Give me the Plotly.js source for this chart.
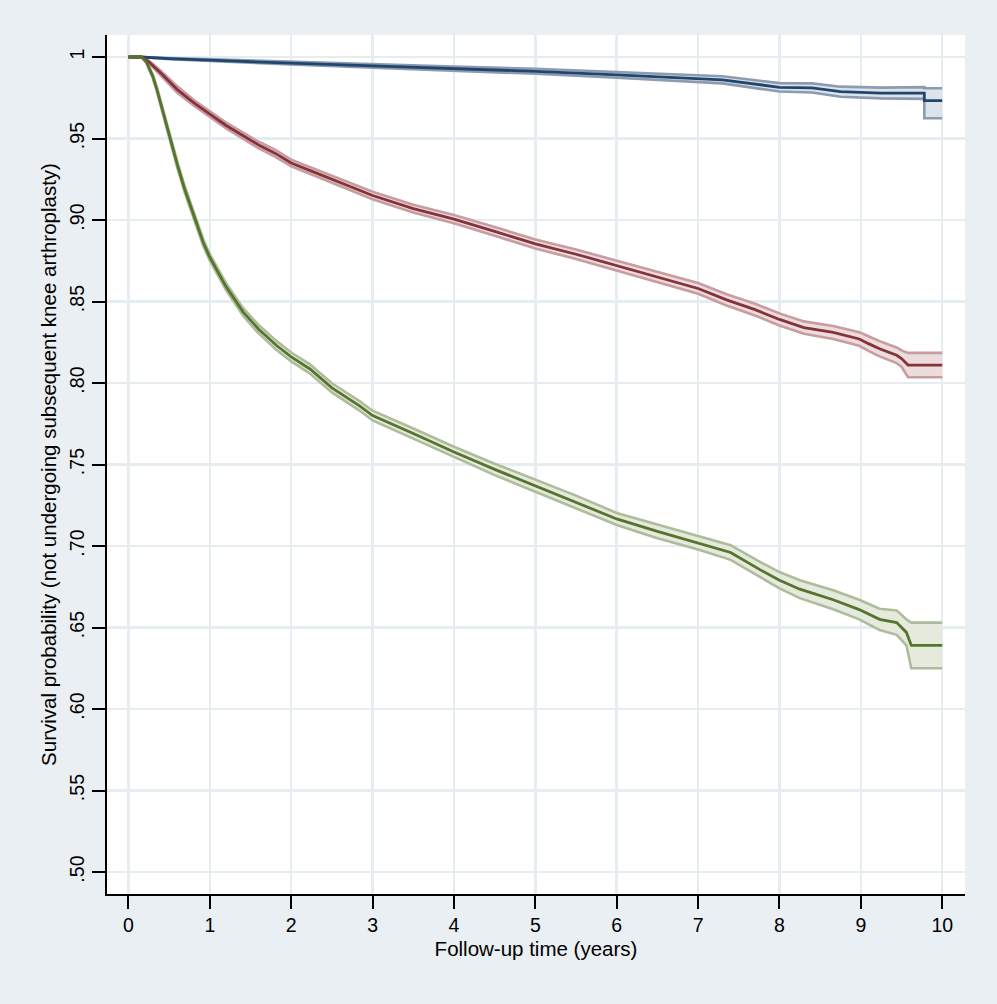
<!DOCTYPE html>
<html>
<head>
<meta charset="utf-8">
<script src="https://cdn.plot.ly/plotly-3.0.1.min.js"></script>
<style>
html,body{margin:0;padding:0;background:#eaeff3;}
#chart{width:997px;height:1004px;}
</style>
</head>
<body>
<div id="chart"></div>
<script>
// ---- Data ----
// Series 1 (navy)
const timeA = [0, 0.15, 0.5, 1, 2, 3, 4, 5, 6, 7, 7.3, 8, 8.4, 8.75, 9.25, 9.78, 9.78, 10];
const survA = [1, 1, 0.999, 0.998, 0.9962, 0.9945, 0.993, 0.9912, 0.989, 0.9865, 0.986, 0.9814, 0.981, 0.9787, 0.9779, 0.9779, 0.9732, 0.9732];
const lowA  = [1, 1, 0.9986, 0.9974, 0.9954, 0.9935, 0.9918, 0.9897, 0.9873, 0.9845, 0.9838, 0.9788, 0.9782, 0.9756, 0.9746, 0.9743, 0.9624, 0.9624];
const highA = [1, 1, 0.9994, 0.9986, 0.997, 0.9955, 0.9942, 0.9927, 0.9907, 0.9885, 0.9882, 0.984, 0.9838, 0.9818, 0.9812, 0.9815, 0.9808, 0.9808];

// Series 2 (maroon)
const timeB = [0, 0.16, 0.25, 0.4, 0.6, 0.8, 1, 1.2, 1.4, 1.6, 1.8, 2, 2.25, 2.5, 3, 3.5, 4, 4.5, 5, 5.5, 6, 6.5, 7, 7.35, 7.7, 8, 8.3, 8.66, 8.98, 9.1, 9.23, 9.44, 9.5, 9.58, 10];
const survB = [1, 1, 0.997, 0.990, 0.980, 0.972, 0.965, 0.958, 0.952, 0.946, 0.941, 0.935, 0.930, 0.925, 0.915, 0.907, 0.9005, 0.893, 0.8853, 0.879, 0.872, 0.865, 0.858, 0.851, 0.845, 0.839, 0.834, 0.831, 0.827, 0.824, 0.821, 0.817, 0.815, 0.811, 0.811];
const lowB  = [1, 1, 0.9962, 0.9885, 0.978, 0.9703, 0.9633, 0.9562, 0.9501, 0.944, 0.9389, 0.933, 0.9279, 0.9228, 0.9127, 0.9046, 0.898, 0.8903, 0.8825, 0.8761, 0.869, 0.8618, 0.8547, 0.8476, 0.8414, 0.8353, 0.8302, 0.827, 0.8228, 0.8195, 0.8163, 0.8122, 0.810, 0.8035, 0.8035];
const highB = [1, 1, 0.9978, 0.9915, 0.982, 0.9737, 0.9667, 0.9598, 0.9539, 0.948, 0.9431, 0.937, 0.9321, 0.9272, 0.9173, 0.9094, 0.903, 0.8957, 0.8881, 0.8819, 0.875, 0.8682, 0.8613, 0.8544, 0.8486, 0.8427, 0.8378, 0.835, 0.8312, 0.8285, 0.8257, 0.8218, 0.820, 0.8185, 0.8185];

// Series 3 (forest green)
const timeC = [0, 0.16, 0.22, 0.3, 0.35, 0.43, 0.51, 0.6, 0.69, 0.8, 0.92, 1, 1.2, 1.41, 1.6, 1.82, 2, 2.23, 2.5, 2.84, 3, 3.5, 4, 4.5, 5, 5.5, 6, 6.5, 7, 7.4, 7.76, 8, 8.25, 8.66, 8.98, 9.23, 9.44, 9.56, 9.62, 10];
const survC = [1, 1, 0.997, 0.988, 0.980, 0.965, 0.950, 0.934, 0.919, 0.903, 0.886, 0.877, 0.859, 0.8435, 0.833, 0.823, 0.816, 0.8086, 0.797, 0.786, 0.780, 0.769, 0.7577, 0.747, 0.737, 0.727, 0.7166, 0.709, 0.702, 0.696, 0.6855, 0.679, 0.6735, 0.667, 0.661, 0.655, 0.653, 0.647, 0.639, 0.639];
const lowC  = [1, 1, 0.9962, 0.9868, 0.9785, 0.9633, 0.9483, 0.932, 0.917, 0.9009, 0.8839, 0.875, 0.8568, 0.8411, 0.8304, 0.8203, 0.8133, 0.8058, 0.7942, 0.7831, 0.777, 0.7659, 0.7545, 0.7435, 0.7333, 0.7231, 0.7129, 0.7048, 0.6978, 0.6915, 0.6807, 0.674, 0.668, 0.6612, 0.655, 0.6485, 0.6455, 0.639, 0.625, 0.625];
const highC = [1, 1, 0.9978, 0.9892, 0.9815, 0.9667, 0.9517, 0.936, 0.921, 0.9051, 0.8881, 0.879, 0.8612, 0.8459, 0.8356, 0.8257, 0.8187, 0.8114, 0.7998, 0.7889, 0.783, 0.7721, 0.7609, 0.7505, 0.7407, 0.7309, 0.7203, 0.7132, 0.7062, 0.7005, 0.6903, 0.684, 0.679, 0.6728, 0.667, 0.6615, 0.6605, 0.655, 0.653, 0.653];

// Axis ticks
const xTicks = [0, 1, 2, 3, 4, 5, 6, 7, 8, 9, 10];
const yTickVals = [0.50, 0.55, 0.60, 0.65, 0.70, 0.75, 0.80, 0.85, 0.90, 0.95, 1];
const yTickText = ['.50', '.55', '.60', '.65', '.70', '.75', '.80', '.85', '.90', '.95', '1'];

// ---- Styling ----
const series = [
  {t: timeA, s: survA, lo: lowA, hi: highA, line: '#1f466e', edge: '#8c9bb0', fill: '#dde3ea'},
  {t: timeB, s: survB, lo: lowB, hi: highB, line: '#86323a', edge: '#c69da1', fill: '#eddcde'},
  {t: timeC, s: survC, lo: lowC, hi: highC, line: '#55752f', edge: '#aebc9c', fill: '#e5eadd'}
];

const traces = [];
series.forEach(function(d){
  traces.push({x: d.t, y: d.lo, type: 'scatter', mode: 'lines',
    line: {color: d.edge, width: 2.6}, hoverinfo: 'skip', showlegend: false});
  traces.push({x: d.t, y: d.hi, type: 'scatter', mode: 'lines', fill: 'tonexty',
    fillcolor: d.fill, line: {color: d.edge, width: 2.6}, hoverinfo: 'skip', showlegend: false});
});
series.forEach(function(d){
  traces.push({x: d.t, y: d.s, type: 'scatter', mode: 'lines',
    line: {color: d.line, width: 2.8}, showlegend: false});
});

const fontFam = '"Liberation Sans", Arial, Helvetica, sans-serif';

const layout = {
  width: 997, height: 1004,
  paper_bgcolor: '#eaeff3',
  plot_bgcolor: '#ffffff',
  margin: {l: 107, r: 32, t: 35, b: 110},
  font: {family: fontFam, size: 19, color: '#000'},
  showlegend: false,
  xaxis: {
    range: [-0.264, 10.28],
    tickvals: xTicks,
    ticktext: xTicks.map(String),
    ticks: 'outside', ticklen: 13, tickwidth: 2, tickcolor: '#000',
    showline: true, linecolor: '#000', linewidth: 2,
    showgrid: true, gridcolor: '#e6edf1', gridwidth: 2.5,
    zeroline: false,
    tickfont: {family: fontFam, size: 19.5, color: '#000'},
    title: {text: 'Follow-up time (years)', font: {family: fontFam, size: 20.5, color: '#000'}, standoff: 6}
  },
  yaxis: {
    range: [0.4865, 1.0135],
    tickvals: yTickVals,
    ticktext: yTickText,
    tickangle: -90,
    ticks: 'outside', ticklen: 13, tickwidth: 2, tickcolor: '#000',
    showline: true, linecolor: '#000', linewidth: 2,
    showgrid: true, gridcolor: '#e6edf1', gridwidth: 2.5,
    zeroline: false,
    tickfont: {family: fontFam, size: 19.5, color: '#000'},
    title: {text: 'Survival probability (not undergoing subsequent knee arthroplasty)', font: {family: fontFam, size: 20.5, color: '#000'}, standoff: 4}
  }
};

Plotly.newPlot('chart', traces, layout, {displayModeBar: false, staticPlot: true});
</script>
</body>
</html>
